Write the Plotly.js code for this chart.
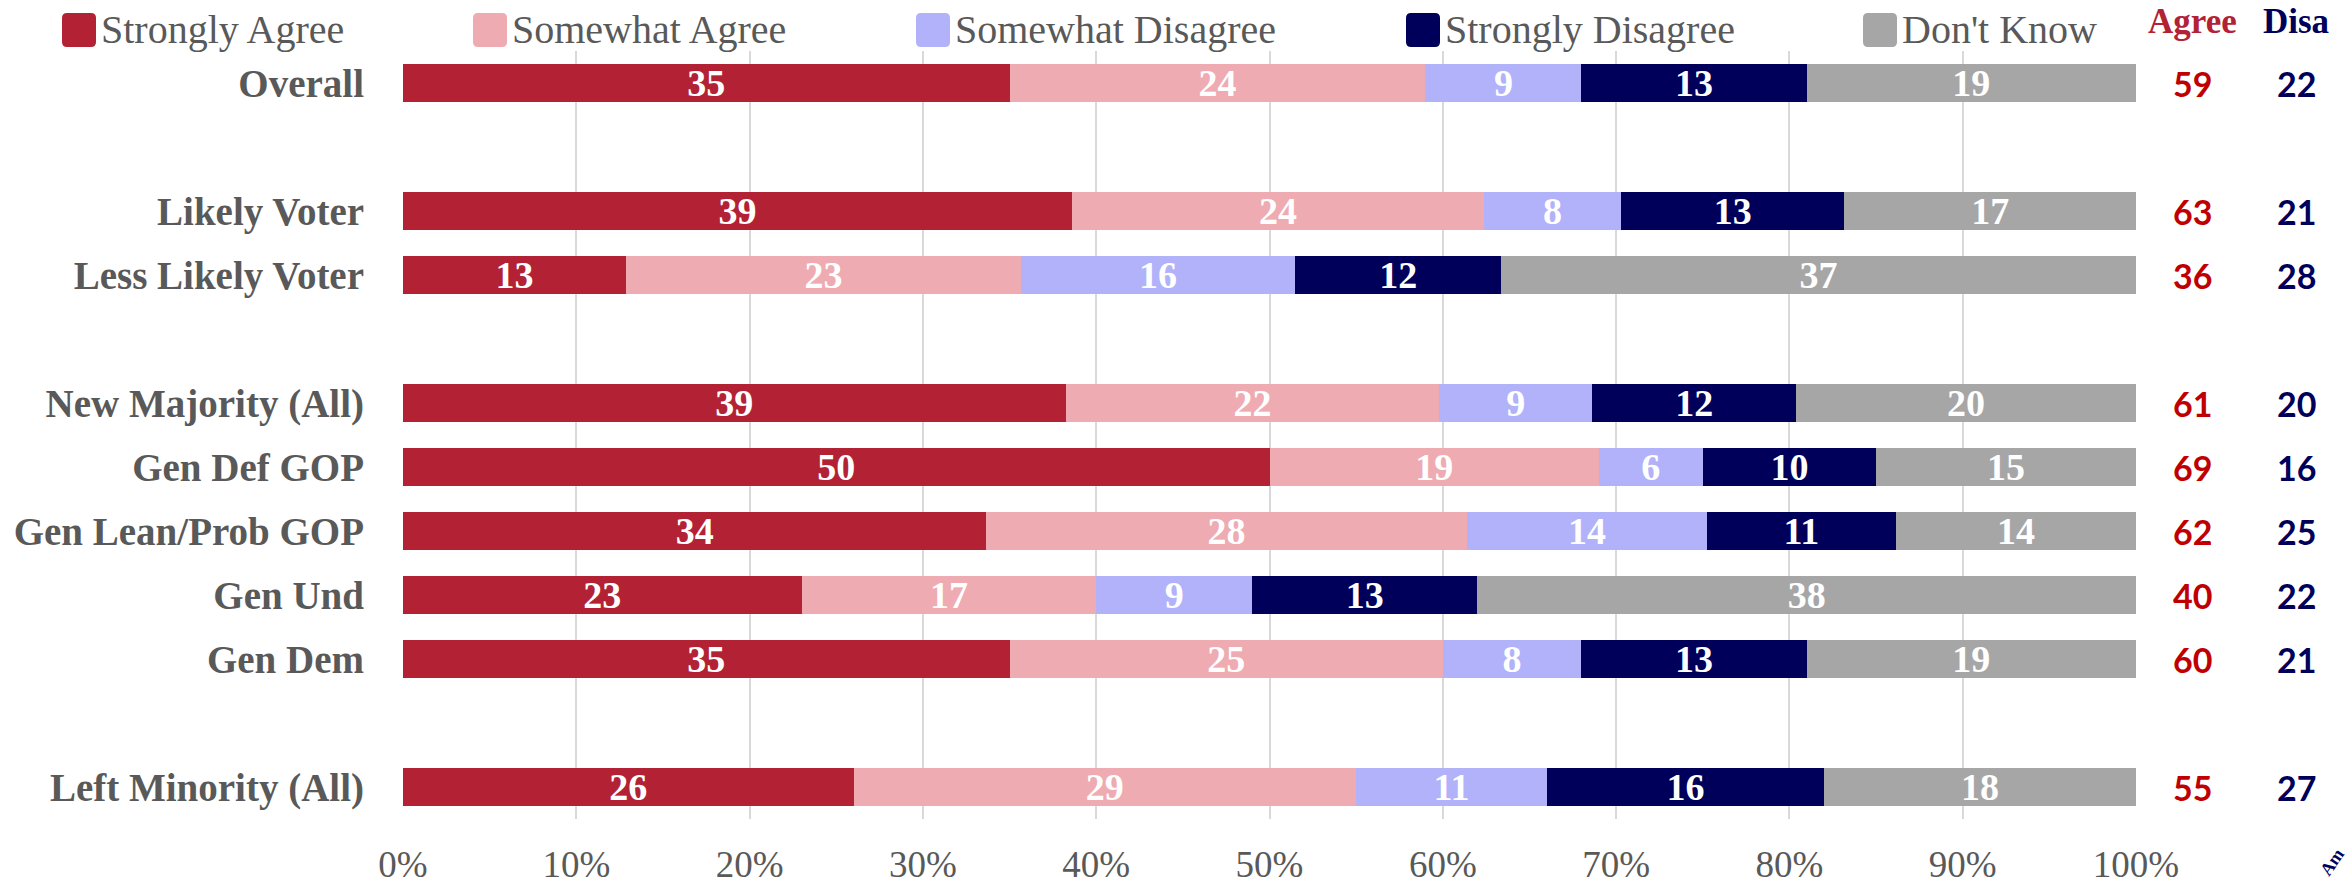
<!DOCTYPE html>
<html>
<head>
<meta charset="utf-8">
<script src="https://cdn.plot.ly/plotly-3.0.1.min.js"></script>
<style>
html,body{margin:0;padding:0;background:#fff;overflow:hidden;}
#chart{width:2351px;height:889px;}
</style>
</head>
<body>
<div id="chart"></div>
<script>
// ---- data ----
const categories = ['Overall', ' ', 'Likely Voter', 'Less Likely Voter', '  ', 'New Majority (All)',
  'Gen Def GOP', 'Gen Lean/Prob GOP', 'Gen Und', 'Gen Dem', '   ', 'Left Minority (All)'];
const seriesNames = ['Strongly Agree', 'Somewhat Agree', 'Somewhat Disagree', 'Strongly Disagree', "Don't Know"];
const stronglyAgree    = [35, null, 39, 13, null, 39, 50, 34, 23, 35, null, 26];
const somewhatAgree    = [24, null, 24, 23, null, 22, 19, 28, 17, 25, null, 29];
const somewhatDisagree = [9,  null, 8,  16, null, 9,  6,  14, 9,  8,  null, 11];
const stronglyDisagree = [13, null, 13, 12, null, 12, 10, 11, 13, 13, null, 16];
const dontKnow         = [19, null, 17, 37, null, 20, 15, 14, 38, 19, null, 18];
const agreeTotal       = [59, null, 63, 36, null, 61, 69, 62, 40, 60, null, 55];
const disagreeTotal    = [22, null, 21, 28, null, 20, 16, 25, 22, 21, null, 27];
const xTickVals = [0, 10, 20, 30, 40, 50, 60, 70, 80, 90, 100];
const xTickText = ['0%', '10%', '20%', '30%', '40%', '50%', '60%', '70%', '80%', '90%', '100%'];
const agreeHeader = 'Agree';
const disagreeHeader = 'Disa';

// ---- styles ----
const colors = ['#b22234', '#eeabb1', '#b2b2fa', '#00005a', '#a6a6a6'];
const serif = '"Liberation Serif", "Times New Roman", serif';
const gray = '#595959';

// plot area geometry (px)
const W = 2351, H = 889;
const mL = 403, mR = 215, mT = 51, mB = 70;
const pw = W - mL - mR, ph = H - mT - mB;
const px2x = p => (p - mL) / pw;
const py2y = p => (H - mB - p) / ph;

const seriesValues = [stronglyAgree, somewhatAgree, somewhatDisagree, stronglyDisagree, dontKnow];
const traces = seriesValues.map((vals, i) => ({
  type: 'bar',
  orientation: 'h',
  name: seriesNames[i],
  y: categories,
  x: vals,
  text: vals,
  texttemplate: '%{text}',
  textposition: 'inside',
  insidetextanchor: 'middle',
  constraintext: 'none',
  textangle: 0,
  textfont: {family: serif, size: 38, color: '#ffffff', weight: 'bold'},
  marker: {color: colors[i], line: {width: 0}},
  width: 0.58,
  hoverinfo: 'skip',
  showlegend: false
}));

const annotations = [];
const shapes = [];

// right-side totals
categories.forEach((c, i) => {
  if (agreeTotal[i] !== null) {
    annotations.push({xref: 'paper', yref: 'y', x: px2x(2192), y: c, text: String(agreeTotal[i]),
      showarrow: false, xanchor: 'center', yanchor: 'middle',
      font: {family: 'Lato, sans-serif', size: 34, color: '#c00000', weight: 'bold'}});
  }
  if (disagreeTotal[i] !== null) {
    annotations.push({xref: 'paper', yref: 'y', x: px2x(2296), y: c, text: String(disagreeTotal[i]),
      showarrow: false, xanchor: 'center', yanchor: 'middle',
      font: {family: 'Lato, sans-serif', size: 34, color: '#00005a', weight: 'bold'}});
  }
});
annotations.push({xref: 'paper', yref: 'paper', x: px2x(2192), y: py2y(22), text: agreeHeader,
  showarrow: false, xanchor: 'center', yanchor: 'middle',
  font: {family: serif, size: 35, color: '#b22234', weight: 'bold'}});
annotations.push({xref: 'paper', yref: 'paper', x: px2x(2296), y: py2y(22), text: disagreeHeader,
  showarrow: false, xanchor: 'center', yanchor: 'middle',
  font: {family: serif, size: 35, color: '#00005a', weight: 'bold'}});

// manual legend
const legendSquares = [62, 473, 916, 1406, 1863];
const sq = 'M -12,-17 L 12,-17 Q 17,-17 17,-12 L 17,12 Q 17,17 12,17 L -12,17 Q -17,17 -17,12 L -17,-12 Q -17,-17 -12,-17 Z';
seriesNames.forEach((n, i) => {
  shapes.push({type: 'path', xref: 'paper', yref: 'paper', xsizemode: 'pixel', ysizemode: 'pixel',
    xanchor: px2x(legendSquares[i] + 17), yanchor: py2y(30), path: sq,
    fillcolor: colors[i], line: {width: 0}});
  annotations.push({xref: 'paper', yref: 'paper', x: px2x(legendSquares[i] + 37), y: py2y(29),
    text: n, showarrow: false, xanchor: 'left', yanchor: 'middle',
    font: {family: serif, size: 40, color: gray}});
});

// partial logo text in the corner
annotations.push({xref: 'paper', yref: 'paper', x: px2x(2332), y: py2y(862), text: 'Am',
  showarrow: false, textangle: -55, xanchor: 'center', yanchor: 'middle',
  font: {family: serif, size: 18, color: '#00005a', weight: 'bold'}});

const layout = {
  width: W, height: H,
  margin: {l: mL, r: mR, t: mT, b: mB, pad: 0},
  paper_bgcolor: '#ffffff', plot_bgcolor: '#ffffff',
  barmode: 'stack',
  barnorm: 'percent',
  showlegend: false,
  xaxis: {
    range: [0, 100], tickvals: xTickVals, ticktext: xTickText,
    showgrid: true, gridcolor: '#d9d9d9', gridwidth: 2,
    zeroline: false, showline: false, ticks: '',
    ticklabelstandoff: 20,
    tickfont: {family: serif, size: 37, color: gray},
    fixedrange: true
  },
  yaxis: {
    type: 'category', categoryorder: 'array', categoryarray: categories,
    autorange: 'reversed', showgrid: false, zeroline: false, showline: false, ticks: '',
    ticklabelstandoff: 38,
    tickfont: {family: serif, size: 39, color: gray, weight: 'bold'},
    fixedrange: true
  },
  annotations: annotations,
  shapes: shapes
};

Plotly.newPlot('chart', traces, layout, {staticPlot: true, displayModeBar: false});
</script>
</body>
</html>
